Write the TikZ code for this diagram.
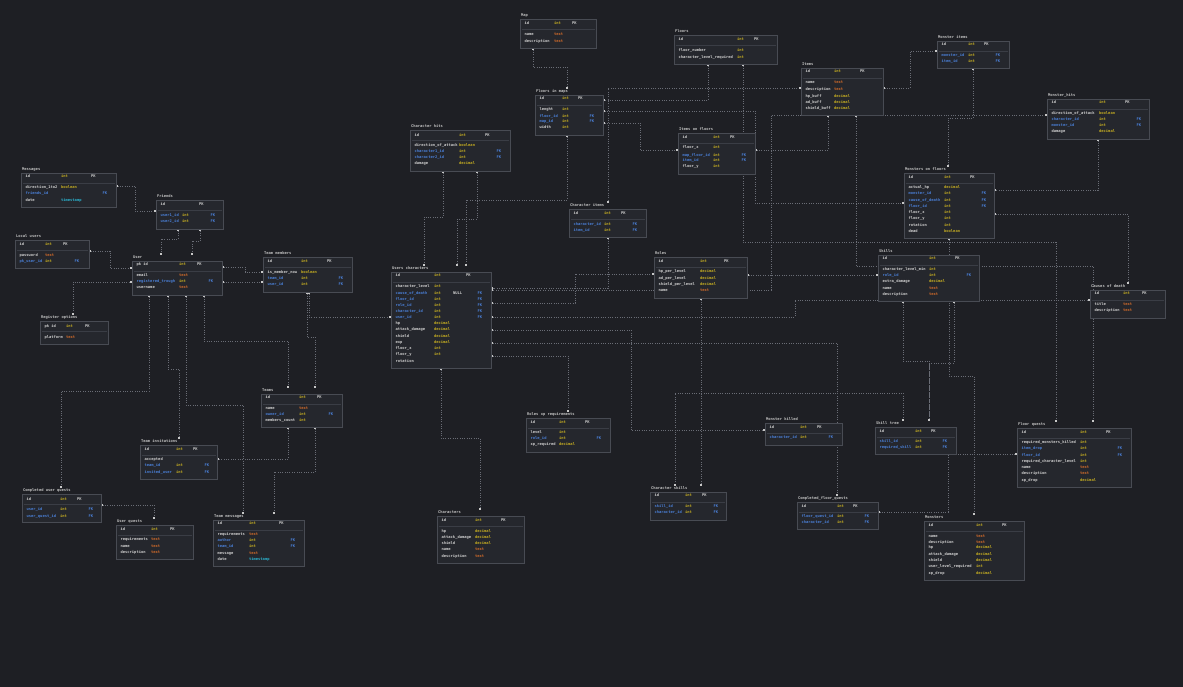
\documentclass[tikz,border=0pt]{standalone}
\usepackage{fontspec}
\setmonofont{DejaVu Sans Mono}
\usetikzlibrary{arrows.meta}
\pgfdeclarelayer{back}
\pgfdeclarelayer{bg}
\pgfsetlayers{back,bg,main}
\definecolor{bgc}{HTML}{1E1F24}
\definecolor{boxf}{HTML}{25272D}
\definecolor{boxd}{HTML}{484B53}
\definecolor{sepc}{HTML}{3A3D45}
\definecolor{namec}{HTML}{CFCFCF}
\definecolor{titlec}{HTML}{C2C2C2}
\definecolor{yelc}{HTML}{C4AC22}
\definecolor{orac}{HTML}{CF6A2A}
\definecolor{cyac}{HTML}{2AB4D0}
\definecolor{bluc}{HTML}{4A7FD6}
\definecolor{cline}{HTML}{6A6D76}
\definecolor{dotc}{HTML}{C8C8C8}
\newcommand\erfont{\ttfamily\bfseries\fontsize{3.75}{4.4}\selectfont}
\tikzset{
  pick/.code={\edef\erpick{\noexpand\pgfkeysalso{#1}}\erpick},
  tbox/.style={draw=boxd, fill=boxf, line width=0.9pt, inner sep=0pt, outer sep=0pt, rectangle},
  ttitle/.style={font=\erfont, text=titlec, inner sep=0.5pt, anchor=west, text height=2.8pt, text depth=0.9pt},
  fld/.style={font=\erfont, inner sep=0pt, anchor=west, text height=2.8pt, text depth=0.9pt},
  sepst/.style={draw=sepc, line width=0.8pt},
  nm@/.style={text=namec}, nm@PK/.style={text=namec}, nm@FK/.style={text=bluc},
  ty@int/.style={text=yelc}, ty@decimal/.style={text=yelc}, ty@boolean/.style={text=yelc},
  ty@text/.style={text=orac}, ty@timestamp/.style={text=cyac},
  ky@PK/.style={text=namec}, ky@FK/.style={text=bluc, xshift=11.5pt},
  conn/.style={draw=cline, line width=0.75pt, dash pattern=on 0.75pt off 1.6pt,
    {Square[length=2pt,width=2pt,color=dotc]}-{Square[length=2pt,width=2pt,color=dotc]}},
}
% #1 id, #2 title, #3 x1, #4 y1, #5 x2, #6 y2, #7 type x, #8 key x, #9 rows
\newcommand\ertab[9]{%
  \node[tbox, anchor=north west, minimum width={#5-#3}, minimum height={#6-#4}] (#1) at (#3,#4) {};
  \node[ttitle] (#1-t) at (#3+0.5,#4-3.5) {#2};
  \draw[sepst] (#3+1.5,#4+10) -- (#5-1.5,#4+10);
  \foreach \yy/\nm/\ty/\ky [count=\i] in {#9} {
    \node[fld, pick=nm@\ky] (#1-n\i) at (#3+4.5,\yy) {\nm};
    \ifx\ty\empty\else\node[fld, pick=ty@\ty] (#1-y\i) at (#7,\yy) {\ty};\fi
    \ifx\ky\empty\else\node[fld, pick=ky@\ky] (#1-k\i) at (#8,\yy) {\ky};\fi
  }%
}
\begin{document}
\begin{tikzpicture}[x=1pt,y=-1pt]
\useasboundingbox (0,0) rectangle (1183,687);
\begin{pgfonlayer}{back}
\fill[bgc] (0,0) rectangle (1183,687);
\end{pgfonlayer}

\ertab{map}{Map}{520}{19}{596}{48}{554}{572}{24/id/int/PK, 35/name/text/, 42/description/text/}
\ertab{floors}{Floors}{674}{35}{777}{64}{737}{754}{40/id/int/PK, 51/floor\_number/int/, 58/character\_level\_required/int/}
\ertab{items}{Items}{801}{68}{883}{115}{834}{860}{72/id/int/PK, 83/name/text/, 90/description/text/, 97/hp\_buff/decimal/, 103/ad\_buff/decimal/, 109/shield\_buff/decimal/}
\ertab{iof}{Items on floors}{678}{133}{755}{174}{713}{730}{138/id/int/PK, 148/floor\_x/int/, 156/map\_floor\_id/int/FK, 161/item\_id/int/FK, 167/floor\_y/int/}
\ertab{fim}{Floors in maps}{535}{95}{603}{135}{562}{578}{99/id/int/PK, 110/lenght/int/, 117/floor\_id/int/FK, 122/map\_id/int/FK, 128/width/int/}
\ertab{chits}{Character hits}{410}{130}{510}{171}{459}{485}{136/id/int/PK, 146/direction\_of\_attack/boolean/, 152/character1\_id/int/FK, 158/character2\_id/int/FK, 164/damage/decimal/}
\ertab{citems}{Character items}{569}{209}{646}{237}{604}{621}{214/id/int/PK, 225/character\_id/int/FK, 231/item\_id/int/FK}
\ertab{uc}{Users characters}{391}{272}{491}{368}{434}{466}{276/id/int/PK, 287/character\_level/int/, 294/cause\_of\_death/int/FK, 300/floor\_id/int/FK, 306/role\_id/int/FK, 312/character\_id/int/FK, 318/user\_id/int/FK, 324/hp/decimal/, 330/attack\_damage/decimal/, 337/shield/decimal/, 343/exp/decimal/, 349/floor\_x/int/, 355/floor\_y/int/, 362/rotation//}
\node[fld, text=namec] (ucnull) at (453,294) {NULL};
\ertab{msgs}{Messages}{21}{173}{116}{207}{61}{91}{177/id/int/PK, 188/direction\_1to2/boolean/, 194/friends\_id//FK, 201/date/timestamp/}
\ertab{friends}{Friends}{156}{200}{223}{229}{182}{199}{205/id//PK, 216/user1\_id/int/FK, 222/user2\_id/int/FK}
\ertab{lusers}{Local users}{15}{240}{89}{268}{45}{63}{245/id/int/PK, 256/password/text/, 262/pk\_user\_id/int/FK}
\ertab{user}{User}{132}{261}{222}{295}{179}{197}{265/pk id/int/PK, 276/email/text/, 282/registered\_trough/int/FK, 288/username/text/}
\ertab{regopt}{Register options}{40}{321}{108}{344}{66}{85}{327/pk id/int/PK, 338/platform/text/}
\ertab{tmem}{Team members}{263}{257}{352}{292}{301}{327}{262/id/int/PK, 273/is\_member\_now/boolean/, 279/team\_id/int/FK, 285/user\_id/int/FK}
\ertab{teams}{Teams}{261}{394}{342}{427}{299}{317}{398/id/int/PK, 409/name/text/, 415/owner\_id/int/FK, 421/members\_count/int/}
\ertab{tinv}{Team invitations}{140}{445}{217}{479}{176}{193}{450/id/int/PK, 460/accepted//, 466/team\_id/int/FK, 473/invited\_user/int/FK}
\ertab{cuq}{Completed user quests}{22}{494}{101}{522}{60}{77}{500/id/int/PK, 510/user\_id/int/FK, 517/user\_quest\_id/int/FK}
\ertab{uq}{User quests}{116}{525}{193}{559}{151}{170}{530/id/int/PK, 540/requirements/text/, 547/name/text/, 553/description/text/}
\ertab{tmsg}{Team messages}{213}{520}{304}{566}{249}{279}{524/id/int/PK, 535/requirements/text/, 541/author/int/FK, 547/team\_id/int/FK, 554/message/text/, 560/date/timestamp/}
\ertab{chars}{Characters}{437}{516}{524}{563}{475}{501}{521/id/int/PK, 532/hp/decimal/, 538/attack\_damage/decimal/, 544/shield/decimal/, 550/name/text/, 557/description/text/}
\ertab{rxp}{Roles xp requirements}{526}{418}{610}{452}{559}{585}{423/id/int/PK, 433/level/int/, 439/role\_id/int/FK, 445/xp\_required/decimal/}
\ertab{cskills}{Character skills}{650}{492}{726}{520}{685}{702}{496/id/int/PK, 507/skill\_id/int/FK, 513/character\_id/int/FK}
\ertab{roles}{Roles}{654}{257}{747}{298}{700}{724}{262/id/int/PK, 272/hp\_per\_level/decimal/, 279/ad\_per\_level/decimal/, 285/shield\_per\_level/decimal/, 291/name/text/}
\ertab{skills}{Skills}{878}{255}{979}{301}{929}{955}{259/id/int/PK, 270/character\_level\_min/int/, 276/role\_id/int/FK, 282/extra\_damage/decimal/, 289/name/text/, 295/description/text/}
\ertab{cod}{Causes of death}{1090}{290}{1165}{318}{1123}{1142}{294/id/int/PK, 305/title/text/, 311/description/text/}
\ertab{mitems}{Monster items}{937}{41}{1009}{68}{968}{984}{45/id/int/PK, 56/monster\_id/int/FK, 62/item\_id/int/FK}
\ertab{mhits}{Monster\_hits}{1047}{99}{1149}{139}{1099}{1125}{103/id/int/PK, 114/direction\_of\_attack/boolean/, 120/character\_id/int/FK, 126/monster\_id/int/FK, 132/damage/decimal/}
\ertab{mof}{Monsters on floors}{904}{173}{994}{238}{944}{970}{178/id/int/PK, 188/actual\_hp/decimal/, 194/monster\_id/int/FK, 201/cause\_of\_death/int/FK, 207/floor\_id/int/FK, 213/floor\_x/int/, 219/floor\_y/int/, 226/rotation/int/, 232/dead/boolean/}
\ertab{mkilled}{Monster killed}{765}{423}{842}{445}{800}{817}{428/id/int/PK, 438/character\_id/int/FK}
\ertab{stree}{Skill tree}{875}{427}{956}{454}{915}{931}{432/id/int/PK, 442/skill\_id/int/FK, 448/required\_skill/int/FK}
\ertab{fq}{Floor quests}{1017}{428}{1131}{487}{1080}{1106}{433/id/int/PK, 443/required\_monsters\_killed/int/, 449/item\_drop/int/FK, 456/floor\_id/int/FK, 462/required\_character\_level/int/, 468/name/text/, 474/description/text/, 481/xp\_drop/decimal/}
\ertab{cfq}{Completed\_floor\_quests}{797}{502}{878}{529}{837}{853}{507/id/int/PK, 517/floor\_quest\_id/int/FK, 523/character\_id/int/FK}
\ertab{monsters}{Monsters}{924}{521}{1024}{580}{976}{1002}{526/id/int/PK, 537/name/text/, 543/description/text/, 548/hp/decimal/, 555/attack\_damage/decimal/, 561/shield/decimal/, 567/user\_level\_required/int/, 574/xp\_drop/decimal/}

\begin{pgfonlayer}{bg}
% top / centre
\draw[conn] (map.south -| 533,0) |- (567,67) -- (fim-t.north -| 567,0);
\draw[conn] (floors.south -| 708,0) |- (fim.east |- 0,100);
\draw[conn] (items.west |- 0,88) -| (citems-t.north -| 608,0);
\draw[conn] (items.east |- 0,88) -| (910,51) -- (mitems.west |- 0,51);
\draw[conn] (fim.east |- 0,123) -| (640,150) -- (iof.west |- 0,150);
\draw[conn] (fim.east |- 0,111) -| (755,203) -- (mof.west |- 0,203);
\draw[conn] (iof.east |- 0,150) -| (items.south -| 828,0);
\draw[conn] (mhits.west |- 0,115) -| (771,290) -- (uc.east |- 0,290);
\draw[conn] (citems.south -| 608,0) |- (uc.east |- 0,288);
\draw[conn] (floors.south -| 743,0) |- (1056,242) -- (fq-t.north -| 1056,0);
\draw[conn] (items.south -| 856,0) |- (1093,266) -- (fq-t.north -| 1093,0);
\draw[conn] (mitems.south -| 973,0) |- (948,118) -- (mof-t.north -| 948,0);
\draw[conn] (mhits.south -| 1098,0) |- (mof.east |- 0,190);
\draw[conn] (mof.east |- 0,214) -| (cod-t.north -| 1128,0);
\draw[conn] (mof.south -| 949,0) |- (974,376) -- (monsters-t.north -| 974,0);
\draw[conn] (uc.east |- 0,303) -| (575,274) -- (roles.west |- 0,274);
\draw[conn] (skills.west |- 0,275) -- (roles.east |- 0,275);
\draw[conn] (uc.east |- 0,317) -| (795,300) -- (cod.west |- 0,300);
\draw[conn] (uc.east |- 0,330) -| (631,430) -- (mkilled.west |- 0,430);
\draw[conn] (uc.east |- 0,343) -| (cfq-t.north -| 837,0);
\draw[conn] (rxp-t.north -| 568,0) |- (uc.east |- 0,356);
\draw[conn] (cskills-t.north -| 675,0) |- (903,393) -- (stree-t.north -| 903,0);
\draw[conn] (roles.south -| 701,0) -- (cskills-t.north -| 701,0);
\draw[conn] (skills.south -| 903,0) -- (903,361) -| (stree-t.north -| 929,0);
\draw[conn] (skills.south -| 954,0) |- (929,363) -- (stree-t.north -| 929,0);
\draw[conn] (cfq.east |- 0,512) -| (948,454) -- (fq.west |- 0,454);
\draw[conn] (uc.south -| 441,0) |- (480,438) -- (chars-t.north -| 480,0);
\draw[conn] (chits.south -| 443,0) |- (424,217) -- (uc-t.north -| 424,0);
\draw[conn] (chits.south -| 477,0) |- (457,219) -- (uc-t.north -| 457,0);
\draw[conn] (fim.south -| 567,0) |- (466,200) -- (uc-t.north -| 466,0);
% left
\draw[conn] (msgs.east |- 0,186) -| (135,211) -- (friends.west |- 0,211);
\draw[conn] (friends.south -| 178,0) |- (161,239) -- (user-t.north -| 161,0);
\draw[conn] (friends.south -| 200,0) |- (192,241) -- (user-t.north -| 192,0);
\draw[conn] (lusers.east |- 0,251) -| (110,268) -- (user.west |- 0,268);
\draw[conn] (regopt-t.north -| 73,0) |- (user.west |- 0,282);
\draw[conn] (user.east |- 0,267) -| (245,272) -- (tmem.west |- 0,272);
\draw[conn] (user.east |- 0,282) -- (tmem.west |- 0,282);
\draw[conn] (user.south -| 149,0) |- (61,391) -- (cuq-t.north -| 61,0);
\draw[conn] (user.south -| 168,0) |- (179,369) -- (tinv-t.north -| 179,0);
\draw[conn] (user.south -| 186,0) |- (243,405) -- (tmsg-t.north -| 243,0);
\draw[conn] (user.south -| 204,0) |- (288,341) -- (teams-t.north -| 288,0);
\draw[conn] (tmem.south -| 307,0) |- (315,337) -- (teams-t.north -| 315,0);
\draw[conn] (tmem.south -| 309,0) |- (uc.west |- 0,317);
\draw[conn] (teams.south -| 288,0) |- (tinv.east |- 0,459);
\draw[conn] (teams.south -| 315,0) |- (274,472) -- (tmsg-t.north -| 274,0);
\draw[conn] (cuq.east |- 0,505) -| (uq-t.north -| 154,0);
\end{pgfonlayer}
\end{tikzpicture}
\end{document}
